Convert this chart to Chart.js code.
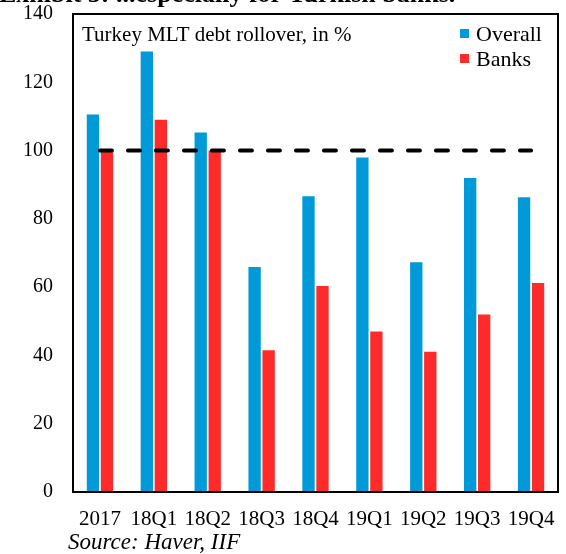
<!DOCTYPE html>
<html>
<head>
<meta charset="utf-8">
<script src="https://cdn.jsdelivr.net/npm/chart.js@4/dist/chart.umd.min.js"></script>
<style>
	html, body { margin: 0; padding: 0; background: #fff; }
	#wrap { position: relative; width: 566px; height: 554px; }
</style>
</head>
<body>
<div id="wrap"><canvas id="rollover-chart" width="566" height="554"></canvas></div>
<script>
var categories = ['2017', '18Q1', '18Q2', '18Q3', '18Q4', '19Q1', '19Q2', '19Q3', '19Q4'];
var overall = [110.6, 129, 105.3, 65.9, 86.6, 98, 67.3, 92, 86.3];
var banks = [100, 109, 100, 41.5, 60.3, 47, 41.1, 52, 61.2];
var yTicks = [0, 20, 40, 60, 80, 100, 120, 140];
var refLevel = 100;

var blue = '#009ad8';
var red = '#ff2b2b';
var serif = '"Liberation Serif", "DejaVu Serif", serif';

var refLine = categories.map(function () { return refLevel; });

// frame, inner title, legend, source note and the clipped exhibit title
var decorations = {
	id: 'decorations',
	afterDatasetsDraw: function (chart) {
		var ctx = chart.ctx, a = chart.chartArea;
		ctx.save();
		ctx.strokeStyle = '#000';
		ctx.lineWidth = 2;
		ctx.strokeRect(a.left, a.top, a.right - a.left, a.bottom - a.top);

		ctx.fillStyle = '#000';
		ctx.textBaseline = 'alphabetic';
		ctx.font = '21px ' + serif;
		ctx.fillText('Turkey MLT debt rollover, in %', 82, 41);

		var y = 34;
		ctx.font = '22px ' + serif;
		chart.data.datasets.forEach(function (ds) {
			if (ds.type === 'line') return;
			ctx.fillStyle = ds.backgroundColor;
			ctx.fillRect(460, y - 5, 9, 9);
			ctx.fillStyle = '#000';
			ctx.textBaseline = 'middle';
			ctx.fillText(ds.label, 476, y + 1);
			y += 25;
		});

		ctx.textBaseline = 'alphabetic';
		ctx.font = 'italic 23px ' + serif;
		ctx.fillText('Source: Haver, IIF', 68, 549);

		ctx.font = 'bold 26px ' + serif;
		ctx.fillText('Exhibit 5: ...especially for Turkish banks.', -1, 2);
		ctx.restore();
	}
};

var ctx = document.getElementById('rollover-chart').getContext('2d');
var chart = new Chart(ctx, {
	type: 'bar',
	data: {
		labels: categories,
		datasets: [{
			type: 'line',
			label: 'Rollover 100%',
			data: refLine,
			borderColor: '#000',
			borderWidth: 4,
			borderDash: [12, 16],
			borderCapStyle: 'round',
			pointRadius: 0,
			fill: false,
			order: 0
		}, {
			label: 'Overall',
			data: overall,
			backgroundColor: blue,
			categoryPercentage: 0.52,
			barPercentage: 0.88,
			order: 1
		}, {
			label: 'Banks',
			data: banks,
			backgroundColor: red,
			categoryPercentage: 0.52,
			barPercentage: 0.88,
			order: 1
		}]
	},
	options: {
		responsive: false,
		animation: false,
		layout: { padding: { top: 14, right: 8, left: 0, bottom: 0 } },
		plugins: {
			legend: { display: false },
			tooltip: { enabled: false }
		},
		scales: {
			x: {
				grid: { display: false, drawTicks: false },
				border: { display: false },
				ticks: {
					color: '#000',
					font: { family: serif, size: 21 },
					padding: 15,
					maxRotation: 0,
					autoSkip: false
				},
				afterFit: function (scale) {
					scale.height = 62;
					scale.paddingLeft = 0;
					scale.paddingRight = 0;
				}
			},
			y: {
				min: 0,
				max: 140,
				afterBuildTicks: function (scale) {
					scale.ticks = yTicks.map(function (v) { return { value: v }; });
				},
				grid: { display: false, drawTicks: false },
				border: { display: false },
				ticks: {
					color: '#000',
					font: { family: serif, size: 20 },
					padding: 20
				},
				afterFit: function (scale) {
					scale.width = 73;
					scale.paddingTop = 0;
					scale.paddingBottom = 0;
				}
			}
		}
	},
	plugins: [decorations]
});
</script>
</body>
</html>
